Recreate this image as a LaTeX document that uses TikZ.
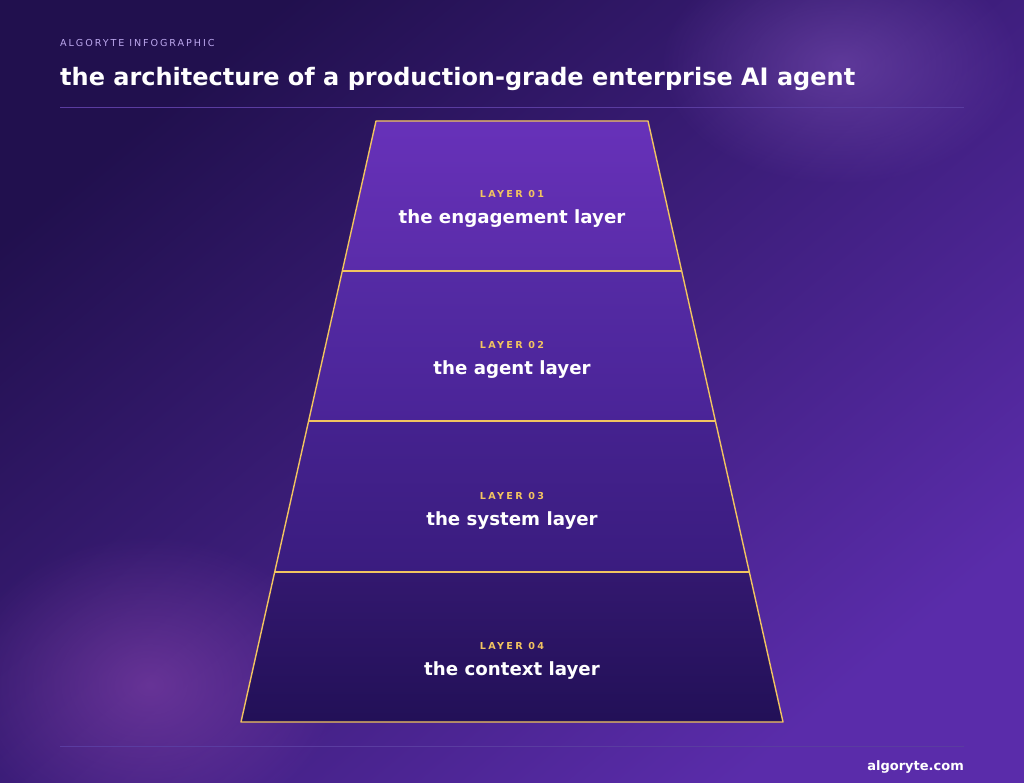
\documentclass[tikz,border=0pt]{standalone}
\usepackage{fontspec}
\setmainfont{DejaVu Sans}
\newfontfamily\spacedfont[LetterSpace=20]{DejaVu Sans}
\newfontfamily\tagfont[LetterSpace=24]{DejaVu Sans}
\usetikzlibrary{fadings}

\definecolor{bgdark}{HTML}{21104E}
\definecolor{bglight}{HTML}{5A2CAA}
\definecolor{glow}{HTML}{8A5CC4}
\definecolor{glowpink}{HTML}{9A4EB8}
\definecolor{gold}{HTML}{F2C460}
\definecolor{rule}{HTML}{5A3CA0}
\definecolor{kicker}{HTML}{BCA8EE}
\definecolor{layeroneA}{HTML}{6731B9}
\definecolor{layeroneB}{HTML}{5A2CA9}
\definecolor{layertwoA}{HTML}{552BA5}
\definecolor{layertwoB}{HTML}{4A2497}
\definecolor{layerthreeA}{HTML}{45228F}
\definecolor{layerthreeB}{HTML}{3A1C7F}
\definecolor{layerfourA}{HTML}{33186F}
\definecolor{layerfourB}{HTML}{221057}

\tikzfading[name=glowfade, inner color=transparent!0, outer color=transparent!100]

\tikzset{
  layertag/.style={font=\tagfont\bfseries\fontsize{9.6}{10}\selectfont, text=gold, anchor=base, inner sep=0pt},
  layername/.style={font=\bfseries\fontsize{18.2}{20}\selectfont, text=white, anchor=base, inner sep=0pt},
  layeredge/.style={draw=gold, line width=1.4pt, line join=round}
}

\begin{document}
\begin{tikzpicture}[x=1pt,y=-1pt]
\useasboundingbox (0,0) rectangle (1024,783);

% background
\shade[shading=axis, top color=bgdark, bottom color=bglight, shading angle=40] (0,0) rectangle (1024,783);
\fill[glow, path fading=glowfade, opacity=0.45] (840,65) ellipse (180 and 120);
\fill[glowpink, path fading=glowfade, opacity=0.45] (150,685) ellipse (190 and 150);

% header
\node[font=\spacedfont\fontsize{9.6}{11}\selectfont, text=kicker, anchor=base west, inner sep=0pt] (kicker) at (60,47) {ALGORYTE INFOGRAPHIC};
\node[font=\bfseries\fontsize{24}{28}\selectfont, text=white, anchor=base west, inner sep=0pt] (title) at (60,86) {the architecture of a production-grade enterprise AI agent};
\draw[rule, line width=0.6pt] (60,107) -- (964,107);

% layer corners
\coordinate (t1l) at (376,121);  \coordinate (t1r) at (648,121);
\coordinate (t2l) at (343,271);  \coordinate (t2r) at (681,271);
\coordinate (t3l) at (309,421);  \coordinate (t3r) at (715,421);
\coordinate (t4l) at (275,572);  \coordinate (t4r) at (749,572);
\coordinate (t5l) at (241,722);  \coordinate (t5r) at (783,722);

\shade[top color=layeroneA, bottom color=layeroneB] (t1l) -- (t1r) -- (t2r) -- (t2l) -- cycle;
\shade[top color=layertwoA, bottom color=layertwoB] (t2l) -- (t2r) -- (t3r) -- (t3l) -- cycle;
\shade[top color=layerthreeA, bottom color=layerthreeB] (t3l) -- (t3r) -- (t4r) -- (t4l) -- cycle;
\shade[top color=layerfourA, bottom color=layerfourB] (t4l) -- (t4r) -- (t5r) -- (t5l) -- cycle;

\draw[layeredge] (t1l) -- (t1r) -- (t5r) -- (t5l) -- cycle;
\draw[layeredge] (t2l) -- (t2r);
\draw[layeredge] (t3l) -- (t3r);
\draw[layeredge] (t4l) -- (t4r);

\node[layertag] (tag1) at (512,198) {LAYER 01};
\node[layername] (name1) at (512,224) {the engagement layer};
\node[layertag] (tag2) at (512,348.5) {LAYER 02};
\node[layername] (name2) at (512,374.5) {the agent layer};
\node[layertag] (tag3) at (512,499) {LAYER 03};
\node[layername] (name3) at (512,525) {the system layer};
\node[layertag] (tag4) at (512,649.5) {LAYER 04};
\node[layername] (name4) at (512,675.5) {the context layer};

% footer
\draw[rule, line width=0.6pt] (60,746) -- (964,746);
\node[font=\bfseries\fontsize{13}{15}\selectfont, text=white, anchor=base east, inner sep=0pt] (site) at (964,770) {algoryte.com};

\end{tikzpicture}
\end{document}
